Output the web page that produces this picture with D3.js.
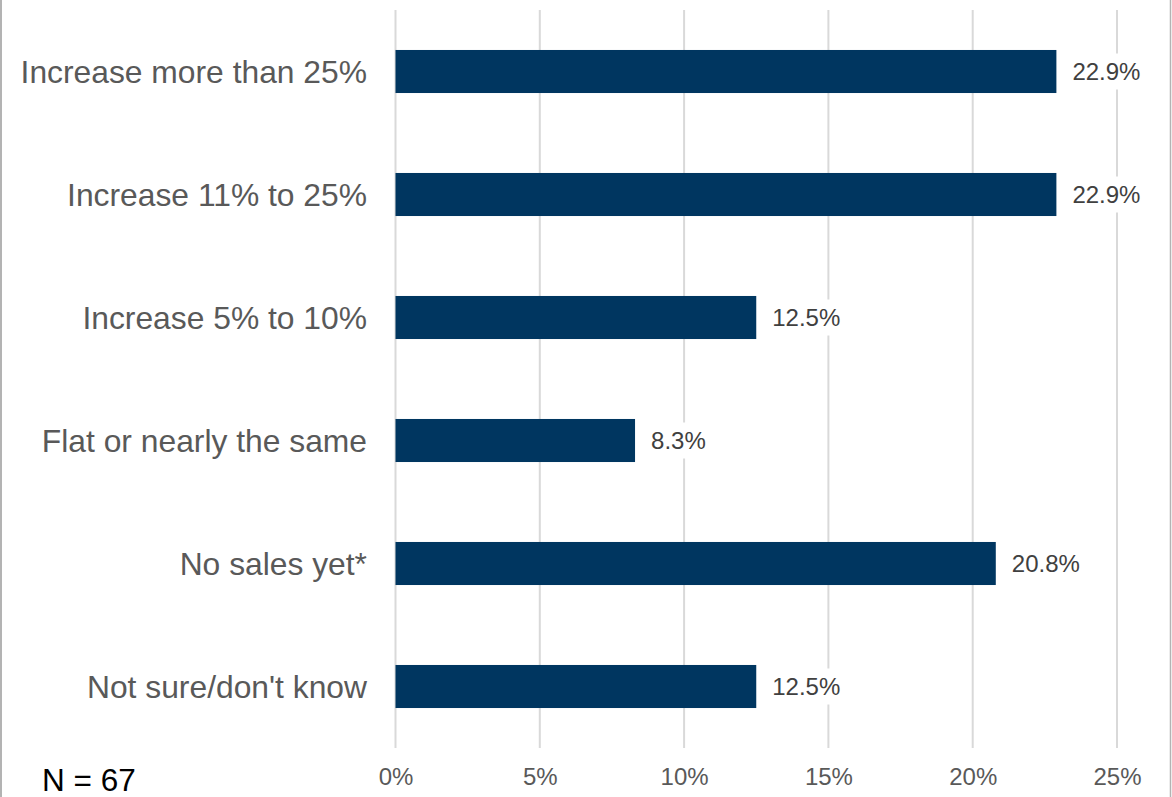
<!DOCTYPE html>
<html><head><meta charset="utf-8">
<script src="https://cdn.jsdelivr.net/npm/d3@7"></script>
<style>body{margin:0;background:#fff;}svg{display:block;font-family:"Liberation Sans",Arial,sans-serif;}</style>
</head><body>
<svg id="chart" width="1172" height="797"></svg>
<script>
const categories = ["Increase more than 25%","Increase 11% to 25%","Increase 5% to 10%","Flat or nearly the same","No sales yet*","Not sure/don't know"];
const values = [22.9, 22.9, 12.5, 8.3, 20.8, 12.5];
const tickValues = [0, 5, 10, 15, 20, 25];
const note = "N = 67";

const svg = d3.select("#chart");
const W = 1172, H = 797;
svg.append("rect").attr("width", W).attr("height", H).attr("fill", "#fff");
// frame lines
svg.append("line").attr("x1",1).attr("x2",1).attr("y1",0).attr("y2",H).attr("stroke","#b3b3b3").attr("stroke-width",2);
svg.append("line").attr("x1",1170.5).attr("x2",1170.5).attr("y1",0).attr("y2",H).attr("stroke","#b3b3b3").attr("stroke-width",1.5);

const x = d3.scaleLinear().domain([0, 25]).range([395.5, 1117]);
const y = d3.scaleBand().domain(categories).range([10, 748]).paddingInner(0.65).paddingOuter(0.325);

// gridlines
svg.append("g").selectAll("line").data(tickValues).join("line")
  .attr("x1", d => x(d)).attr("x2", d => x(d))
  .attr("y1", 10).attr("y2", 748)
  .attr("stroke", "#d9d9d9").attr("stroke-width", 2);

// bars
svg.append("g").selectAll("rect").data(values).join("rect")
  .attr("x", x(0)).attr("y", (d,i) => y(categories[i]))
  .attr("width", d => x(d) - x(0)).attr("height", y.bandwidth())
  .attr("fill", "#003660");

// value labels with white background
const vl = svg.append("g").selectAll("g").data(values).join("g")
  .attr("transform", (d,i) => `translate(${x(d) + 16},${y(categories[i]) + y.bandwidth()/2})`);
vl.append("rect").attr("x", -4).attr("y", -18).attr("width", 76).attr("height", 36).attr("fill", "#fff");
vl.append("text").text(d => d.toFixed(1) + "%")
  .attr("dy", "0.35em").attr("font-size", 24).attr("fill", "#404040");

// category labels
svg.append("g").selectAll("text").data(categories).join("text")
  .attr("x", 367).attr("y", d => y(d) + y.bandwidth()/2)
  .attr("dy", "0.35em").attr("text-anchor", "end")
  .attr("font-size", 31.8).attr("fill", "#595959").text(d => d);

// x axis labels
const xAxis = d3.axisBottom(x).tickValues(tickValues).tickFormat(d => d + "%").tickSize(0).tickPadding(0);
const ax = svg.append("g").attr("transform", "translate(0,768)").call(xAxis);
ax.select(".domain").remove();
ax.selectAll("text").attr("font-size", 24).attr("fill", "#595959").attr("font-family", "Liberation Sans, Arial, sans-serif").attr("dy", "0.71em");

svg.append("text").attr("x", 42).attr("y", 791).attr("font-size", 31.5).attr("fill", "#000").text(note);
</script>
</body></html>
